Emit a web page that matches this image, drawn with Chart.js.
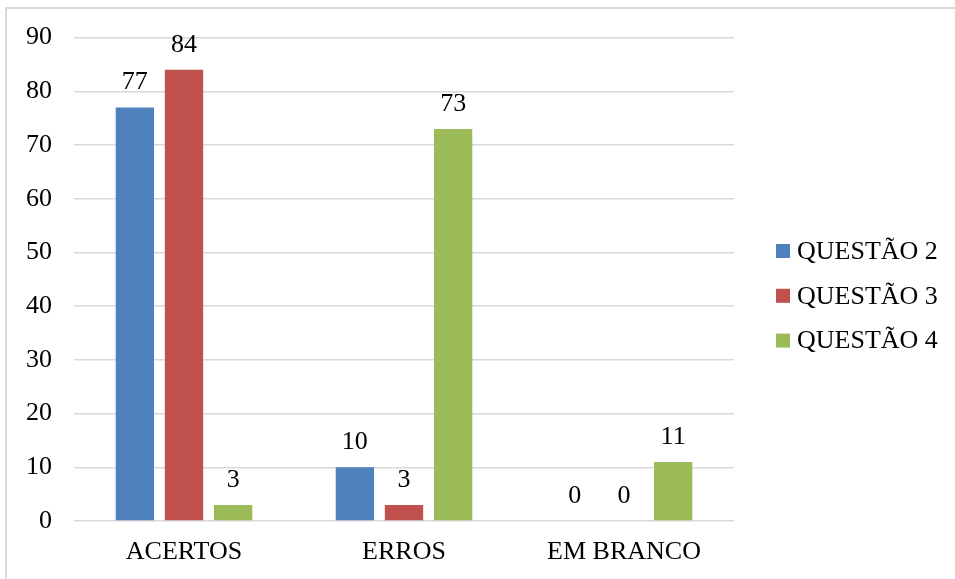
<!DOCTYPE html>
<html>
<head>
<meta charset="utf-8">
<script src="https://cdn.jsdelivr.net/npm/chart.js@4/dist/chart.umd.min.js"></script>
<style>
  html, body { margin: 0; padding: 0; background: #ffffff; }
  #wrap { width: 955px; height: 579px; position: relative; }
</style>
</head>
<body>
<div id="wrap"><canvas id="chart" width="955" height="579"></canvas></div>
<script>
// Categories and series
const categories = ['ACERTOS', 'ERROS', 'EM BRANCO'];
const seriesNames = ['QUESTÃO 2', 'QUESTÃO 3', 'QUESTÃO 4'];
const questao2 = [77, 10, 0];
const questao3 = [84, 3, 0];
const questao4 = [3, 73, 11];
const seriesColors = ['#4F81BD', '#C0504D', '#9BBB59'];
const yTicks = { min: 0, max: 90, step: 10 };

const FONT = "'Liberation Serif', 'Times New Roman', serif";
const FONT_SIZE = 26;

// Light frame around the whole chart
const framePlugin = {
  id: 'frame',
  beforeDraw(chart) {
    const ctx = chart.ctx;
    ctx.save();
    ctx.fillStyle = '#ffffff';
    ctx.fillRect(0, 0, chart.width, chart.height);
    ctx.strokeStyle = '#d9d9d9';
    ctx.lineWidth = 2;
    ctx.strokeRect(6, 8, chart.width + 20, chart.height + 20);
    ctx.restore();
  }
};

// Value labels above each bar
const valueLabelPlugin = {
  id: 'valueLabels',
  afterDatasetsDraw(chart) {
    const ctx = chart.ctx;
    ctx.save();
    ctx.font = FONT_SIZE + 'px ' + FONT;
    ctx.fillStyle = '#000000';
    ctx.textAlign = 'center';
    ctx.textBaseline = 'middle';
    chart.data.datasets.forEach((ds, i) => {
      const meta = chart.getDatasetMeta(i);
      meta.data.forEach((bar, j) => {
        ctx.fillText(String(ds.data[j]), bar.x, bar.y - 25);
      });
    });
    ctx.restore();
  }
};

// Legend on the right
const sideLegendPlugin = {
  id: 'sideLegend',
  afterDraw(chart) {
    const ctx = chart.ctx;
    const x0 = 776, y0 = 251, rowGap = 44.8, box = 14;
    ctx.save();
    ctx.font = FONT_SIZE + 'px ' + FONT;
    ctx.textAlign = 'left';
    ctx.textBaseline = 'middle';
    chart.data.datasets.forEach((ds, i) => {
      const cy = y0 + i * rowGap;
      ctx.fillStyle = ds.backgroundColor;
      ctx.fillRect(x0, cy - box / 2, box, box);
      ctx.fillStyle = '#000000';
      ctx.fillText(ds.label, x0 + 21, cy + 1);
    });
    ctx.restore();
  }
};

const datasets = [questao2, questao3, questao4].map((values, i) => ({
  label: seriesNames[i],
  data: values,
  backgroundColor: seriesColors[i],
  borderWidth: 0,
  categoryPercentage: 0.67,
  barPercentage: 0.78
}));

new Chart(document.getElementById('chart'), {
  type: 'bar',
  data: { labels: categories, datasets },
  options: {
    responsive: false,
    animation: false,
    devicePixelRatio: 1,
    layout: { padding: { left: 0, right: 221, top: 37, bottom: 0 } },
    plugins: {
      legend: { display: false },
      tooltip: { enabled: false }
    },
    scales: {
      x: {
        grid: { display: false, drawTicks: false },
        border: { display: false },
        ticks: { color: '#000000', font: { family: FONT, size: FONT_SIZE }, padding: 16 },
        afterFit(scale) { scale.height = 58; }
      },
      y: {
        min: yTicks.min,
        max: yTicks.max,
        grid: { color: '#d9d9d9', lineWidth: 1.5, drawTicks: false },
        border: { display: false },
        ticks: {
          stepSize: yTicks.step,
          color: '#000000',
          font: { family: FONT, size: FONT_SIZE },
          padding: 22
        },
        afterFit(scale) { scale.width = 74; }
      }
    }
  },
  plugins: [framePlugin, valueLabelPlugin, sideLegendPlugin]
});
</script>
</body>
</html>
